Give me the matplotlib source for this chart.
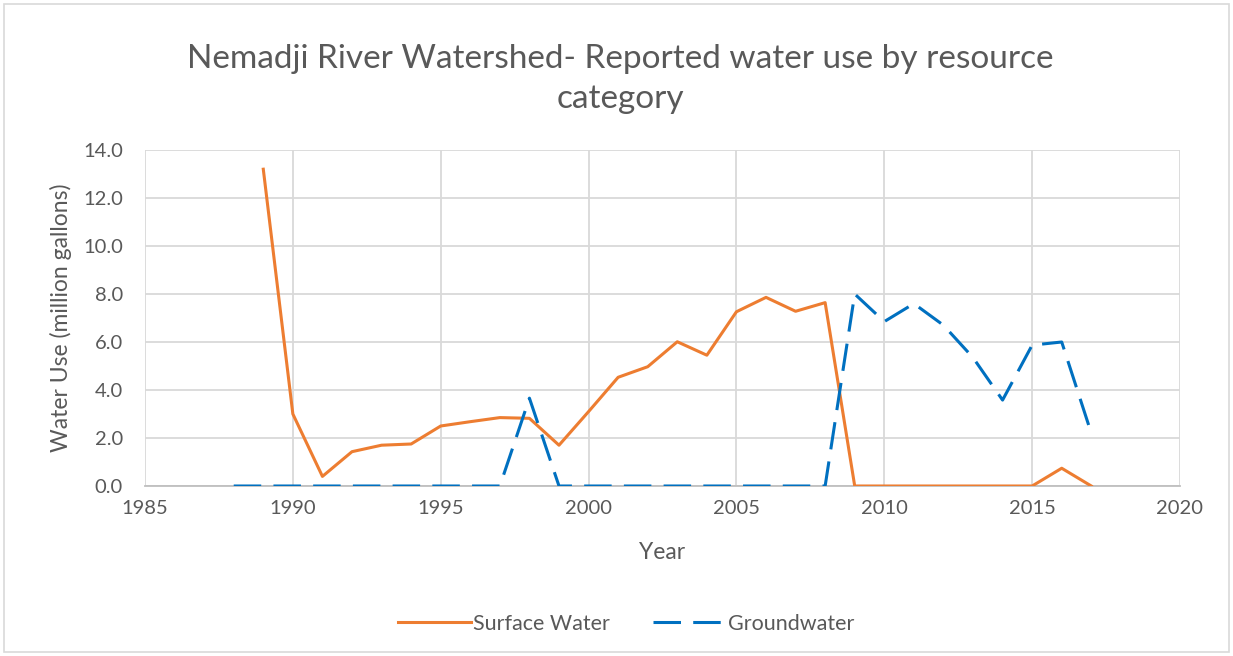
import matplotlib
matplotlib.use("Agg")
import matplotlib.pyplot as plt
import numpy as np

plt.rcParams['font.family'] = ['Lato', 'DejaVu Sans']

sw_years = list(range(1989, 2018))
sw_values = [13.2, 3.0, 0.4, 1.43, 1.7, 1.75, 2.5, 2.68, 2.85, 2.82, 1.7,
             3.1, 4.53, 4.97, 6.01, 5.45, 7.26, 7.86, 7.28, 7.64, 0.0,
             0.0, 0.0, 0.0, 0.0, 0.0, 0.0, 0.74, 0.0]

gw_years = list(range(1988, 2018))
gw_values = [0.0, 0.0, 0.0, 0.0, 0.0, 0.0, 0.0, 0.0, 0.0, 0.0, 3.66, 0.0,
             0.0, 0.0, 0.0, 0.0, 0.0, 0.0, 0.0, 0.0, 0.0, 8.0, 6.85, 7.6,
             6.7, 5.35, 3.58, 5.87, 6.0, 2.2]

title = "Nemadji River Watershed- Reported water use by resource\ncategory"
x_ticks = [1985, 1990, 1995, 2000, 2005, 2010, 2015, 2020]
y_ticks = [0, 2, 4, 6, 8, 10, 12, 14]

fig = plt.figure(figsize=(12.33, 6.56), dpi=100)
ax = fig.add_axes([145/1233, 1-486/656, (1180-145)/1233, (486-150)/656])

grid_c = '#d9d9d9'
ax.plot(sw_years, sw_values, color='#ED7D31', lw=2.2, label='Surface Water', zorder=3)
ax.plot(gw_years, gw_values, color='#0070C0', lw=2.2, dashes=(9, 4), label='Groundwater', zorder=3)

ax.set_xlim(1985, 2020)
ax.set_ylim(0, 14)
ax.set_xticks(x_ticks)
ax.set_yticks(y_ticks)
ax.set_yticklabels([f"{v:.1f}" for v in y_ticks])
ax.grid(True, color=grid_c, lw=1.3)
ax.set_axisbelow(True)
for s in ['top', 'right', 'left']:
    ax.spines[s].set_visible(False)
ax.spines['bottom'].set_color('#bfbfbf')
ax.spines['bottom'].set_linewidth(1.3)
ax.tick_params(length=0, labelsize=14.5, colors='#595959')
ax.tick_params(axis='y', pad=16)
ax.tick_params(axis='x', pad=10)

ax.set_xlabel('Year', fontsize=16.5, color='#595959', labelpad=18)
ax.set_ylabel('Water Use (million gallons)', fontsize=16.5, color='#595959', labelpad=8)

fig.text(0.503, 1-79/656, title, ha='center', va='center', fontsize=24,
         color='#595959', linespacing=1.45)

leg = fig.legend(loc='center', bbox_to_anchor=(0.508, 1-624/656), ncol=2, frameon=False,
                 fontsize=15.5, handlelength=3.4, columnspacing=2.0, handletextpad=0.1)
for t in leg.get_texts():
    t.set_color('#595959')

fig.patches.append(plt.Rectangle((4/1233, 4/656), 1-8/1233, 1-8/656, transform=fig.transFigure,
                                 fill=False, edgecolor='#d9d9d9', lw=1.2))

fig.savefig('out.png', dpi=100)
